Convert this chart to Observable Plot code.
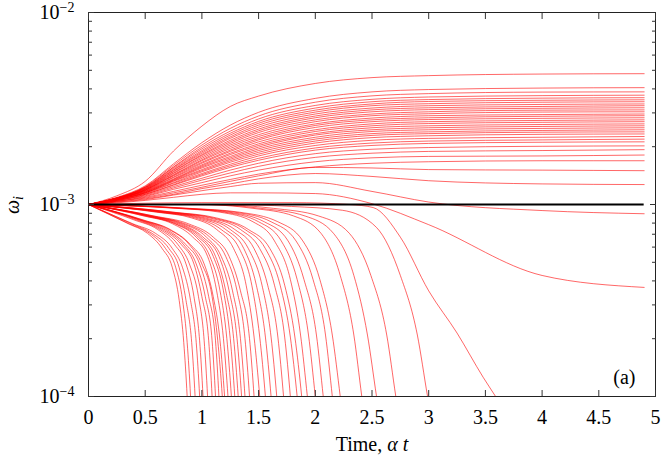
<!DOCTYPE html>
<html><head><meta charset="utf-8">
<script src="https://cdn.jsdelivr.net/npm/d3@7"></script>
<script src="https://cdn.jsdelivr.net/npm/@observablehq/plot@0.6"></script>
<style>
body{margin:0;background:#fff;}
#chart svg{display:block;}
</style>
</head><body><div id="chart"></div>
<script>
// omega_i values are given in units of 10^-3
const unit = 1e-3;

// growing / saturating modes, sampled at these times
const upperTimes = [0, 0.25, 0.5, 0.75, 1, 1.25, 1.5, 2, 2.5, 3, 4, 4.9];
const upperCurves = [
  [1, 1.11, 1.32, 1.90, 2.56, 3.24, 3.67, 4.27, 4.58, 4.69, 4.78, 4.80],
  [1, 1.09, 1.25, 1.63, 2.10, 2.59, 3.02, 3.57, 3.86, 3.97, 4.04, 4.06],
  [1, 1.08, 1.24, 1.60, 2.04, 2.49, 2.89, 3.41, 3.68, 3.78, 3.85, 3.86],
  [1, 1.08, 1.23, 1.57, 1.99, 2.41, 2.79, 3.28, 3.53, 3.63, 3.69, 3.71],
  [1, 1.08, 1.23, 1.56, 1.95, 2.35, 2.71, 3.18, 3.43, 3.52, 3.58, 3.60],
  [1, 1.08, 1.22, 1.54, 1.91, 2.30, 2.65, 3.10, 3.34, 3.44, 3.49, 3.51],
  [1, 1.08, 1.22, 1.52, 1.88, 2.25, 2.59, 3.03, 3.27, 3.35, 3.41, 3.43],
  [1, 1.08, 1.21, 1.51, 1.85, 2.21, 2.53, 2.96, 3.18, 3.27, 3.32, 3.34],
  [1, 1.08, 1.21, 1.49, 1.82, 2.16, 2.47, 2.89, 3.11, 3.19, 3.24, 3.27],
  [1, 1.08, 1.20, 1.48, 1.80, 2.12, 2.42, 2.83, 3.04, 3.12, 3.17, 3.19],
  [1, 1.07, 1.20, 1.46, 1.77, 2.08, 2.37, 2.76, 2.96, 3.04, 3.10, 3.11],
  [1, 1.07, 1.19, 1.45, 1.74, 2.04, 2.31, 2.70, 2.90, 2.97, 3.03, 3.04],
  [1, 1.07, 1.19, 1.43, 1.71, 2.00, 2.26, 2.63, 2.82, 2.90, 2.94, 2.96],
  [1, 1.07, 1.19, 1.42, 1.69, 1.96, 2.21, 2.58, 2.76, 2.83, 2.88, 2.90],
  [1, 1.07, 1.18, 1.41, 1.66, 1.92, 2.17, 2.52, 2.70, 2.77, 2.81, 2.83],
  [1, 1.07, 1.18, 1.39, 1.64, 1.89, 2.12, 2.45, 2.63, 2.70, 2.74, 2.76],
  [1, 1.07, 1.17, 1.38, 1.61, 1.85, 2.07, 2.40, 2.57, 2.64, 2.68, 2.70],
  [1, 1.07, 1.17, 1.36, 1.59, 1.82, 2.03, 2.34, 2.51, 2.57, 2.61, 2.63],
  [1, 1.06, 1.16, 1.35, 1.57, 1.78, 1.99, 2.30, 2.45, 2.51, 2.55, 2.57],
  [1, 1.06, 1.16, 1.34, 1.55, 1.75, 1.95, 2.24, 2.40, 2.45, 2.49, 2.51],
  [1, 1.06, 1.15, 1.33, 1.52, 1.72, 1.91, 2.19, 2.34, 2.39, 2.43, 2.45],
  [1, 1.06, 1.15, 1.32, 1.50, 1.69, 1.87, 2.14, 2.29, 2.34, 2.38, 2.39],
  [1, 1.06, 1.15, 1.30, 1.48, 1.66, 1.83, 2.09, 2.23, 2.28, 2.32, 2.33],
  [1, 1.06, 1.14, 1.29, 1.45, 1.62, 1.79, 2.03, 2.16, 2.21, 2.24, 2.26],
  [1, 1.05, 1.13, 1.27, 1.43, 1.59, 1.74, 1.97, 2.09, 2.14, 2.17, 2.19],
  [1, 1.05, 1.13, 1.26, 1.41, 1.56, 1.70, 1.92, 2.03, 2.08, 2.11, 2.12],
  [1, 1.05, 1.12, 1.24, 1.37, 1.51, 1.64, 1.84, 1.94, 1.98, 2.01, 2.02],
  [1, 1.05, 1.11, 1.22, 1.34, 1.46, 1.58, 1.76, 1.85, 1.89, 1.91, 1.93],
  [1, 1.04, 1.10, 1.20, 1.30, 1.41, 1.51, 1.67, 1.75, 1.78, 1.79, 1.81],
  [1, 1.04, 1.09, 1.17, 1.26, 1.35, 1.44, 1.57, 1.64, 1.67, 1.69, 1.69],
  [1, 1.04, 1.08, 1.15, 1.23, 1.32, 1.41, 1.56, 1.55, 1.52, 1.51, 1.50],
  [1, 1.03, 1.07, 1.13, 1.21, 1.28, 1.36, 1.45, 1.40, 1.33, 1.28, 1.27],
  [1, 1.03, 1.06, 1.12, 1.18, 1.24, 1.29, 1.30, 1.17, 1.03, 0.93, 0.895],
  [1, 1.02, 1.05, 1.09, 1.13, 1.15, 1.15, 1.14, 1.01, 0.785, 0.427, 0.370]
];

// decaying modes: each one has its own sample times
const lowerTimes = [
  [0, .35, .52, .65, .74, .80, .84, .87, .90],
  [0, .36, .54, .68, .77, .83, .87, .90, .93],
  [0, .38, .56, .71, .80, .86, .91, .94, .97],
  [0, .39, .59, .74, .83, .90, .95, .98, 1.01],
  [0, .40, .61, .76, .86, .93, .98, 1.01, 1.04],
  [0, .42, .63, .79, .89, .97, 1.02, 1.05, 1.08],
  [0, .44, .65, .82, .93, 1.00, 1.06, 1.09, 1.12],
  [0, .45, .67, .84, .95, 1.03, 1.09, 1.12, 1.15],
  [0, .46, .69, .86, .98, 1.06, 1.12, 1.15, 1.18],
  [0, .47, .71, .89, 1.00, 1.09, 1.14, 1.18, 1.22],
  [0, .48, .72, .90, 1.02, 1.10, 1.16, 1.20, 1.24],
  [0, .49, .74, .92, 1.05, 1.13, 1.19, 1.23, 1.27],
  [0, .50, .76, .95, 1.07, 1.16, 1.22, 1.26, 1.30],
  [0, .52, .77, .97, 1.10, 1.19, 1.25, 1.29, 1.33],
  [0, .53, .79, .99, 1.12, 1.21, 1.28, 1.32, 1.36],
  [0, .54, .81, 1.01, 1.15, 1.24, 1.31, 1.35, 1.39],
  [0, .55, .83, 1.04, 1.17, 1.27, 1.34, 1.38, 1.42],
  [0, .57, .85, 1.07, 1.21, 1.31, 1.38, 1.42, 1.46],
  [0, .58, .88, 1.10, 1.24, 1.34, 1.42, 1.46, 1.50],
  [0, .60, .91, 1.13, 1.28, 1.39, 1.46, 1.51, 1.56],
  [0, .62, .94, 1.17, 1.33, 1.44, 1.51, 1.56, 1.61],
  [0, .64, .97, 1.21, 1.37, 1.48, 1.56, 1.61, 1.66],
  [0, .66, 1.00, 1.25, 1.41, 1.53, 1.61, 1.66, 1.71],
  [0, .69, 1.03, 1.29, 1.46, 1.58, 1.67, 1.72, 1.77],
  [0, .71, 1.07, 1.34, 1.51, 1.64, 1.73, 1.78, 1.83],
  [0, .74, 1.10, 1.38, 1.56, 1.69, 1.78, 1.84, 1.90],
  [0, .75, 1.13, 1.41, 1.60, 1.73, 1.82, 1.88, 1.94],
  [0, .77, 1.16, 1.45, 1.64, 1.78, 1.87, 1.93, 1.99],
  [0, .80, 1.20, 1.50, 1.70, 1.84, 1.94, 2.00, 2.06],
  [0, .83, 1.24, 1.55, 1.76, 1.90, 2.01, 2.07, 2.13],
  [0, .86, 1.29, 1.61, 1.83, 1.98, 2.09, 2.15, 2.21],
  [0, .89, 1.33, 1.67, 1.89, 2.04, 2.15, 2.22, 2.29],
  [0, .96, 1.45, 1.81, 2.05, 2.22, 2.34, 2.41, 2.48],
  [0, 1.02, 1.52, 1.91, 2.16, 2.34, 2.46, 2.54, 2.62],
  [0, 1.08, 1.63, 2.03, 2.30, 2.49, 2.63, 2.71, 2.79],
  [0, 1.20, 1.79, 2.24, 2.54, 2.75, 2.90, 2.99, 3.08],
  [0, 1.0, 1.8, 2.3, 2.51, 2.75, 3.0, 3.25, 3.48, 3.59, 3.7]
];
const lowerCurves = [
  [1, .794, .708, .589, .468, .316, .191, .100, .040],
  [1, .794, .708, .589, .468, .316, .191, .100, .040],
  [1, .794, .708, .589, .468, .316, .191, .100, .040],
  [1, .794, .708, .589, .468, .316, .191, .100, .040],
  [1, .832, .741, .617, .490, .331, .195, .100, .040],
  [1, .832, .741, .617, .490, .331, .195, .100, .040],
  [1, .832, .741, .617, .490, .331, .195, .100, .040],
  [1, .832, .741, .617, .490, .331, .195, .100, .040],
  [1, .832, .741, .617, .490, .331, .195, .100, .040],
  [1, .832, .741, .617, .490, .331, .195, .100, .040],
  [1, .832, .741, .617, .490, .331, .195, .100, .040],
  [1, .871, .794, .676, .537, .355, .200, .100, .040],
  [1, .871, .794, .676, .537, .355, .200, .100, .040],
  [1, .871, .794, .676, .537, .355, .200, .100, .040],
  [1, .871, .794, .676, .537, .355, .200, .100, .040],
  [1, .871, .794, .676, .537, .355, .200, .100, .040],
  [1, .871, .794, .676, .537, .355, .200, .100, .040],
  [1, .871, .794, .676, .537, .355, .200, .100, .040],
  [1, .871, .794, .676, .537, .355, .200, .100, .040],
  [1, .912, .851, .741, .589, .380, .204, .100, .040],
  [1, .912, .851, .741, .589, .380, .204, .100, .040],
  [1, .912, .851, .741, .589, .380, .204, .100, .040],
  [1, .912, .851, .741, .589, .380, .204, .100, .040],
  [1, .912, .851, .741, .589, .380, .204, .100, .040],
  [1, .912, .851, .741, .589, .380, .204, .100, .040],
  [1, .912, .851, .741, .589, .380, .204, .100, .040],
  [1, .912, .851, .741, .589, .380, .204, .100, .040],
  [1, .955, .912, .813, .646, .407, .209, .100, .045],
  [1, .955, .912, .813, .646, .407, .209, .100, .045],
  [1, .955, .912, .813, .646, .407, .209, .100, .045],
  [1, .955, .912, .813, .646, .407, .209, .100, .045],
  [1, .955, .912, .813, .646, .407, .209, .100, .045],
  [1, 1.0, .955, .871, .708, .427, .209, .100, .050],
  [1, 1.0, .955, .871, .708, .427, .209, .100, .050],
  [1, 1.0, .955, .871, .708, .427, .209, .100, .050],
  [1, 1.0, .977, .933, .759, .427, .209, .100, .050],
  [1, 1.023, 1.023, 1.0, .964, .676, .355, .214, .126, .100, .079]
];

const referenceLevel = [1e-3];
const referenceEnd = 4.9;
const xTicks = [0, 0.5, 1, 1.5, 2, 2.5, 3, 3.5, 4, 4.5, 5];
const yMajor = [1e-4, 1e-3, 1e-2];
const yMajorLabels = ["10^-4", "10^-3", "10^-2"];
const yMinor = [2e-4, 3e-4, 4e-4, 5e-4, 6e-4, 7e-4, 8e-4, 9e-4,
                2e-3, 3e-3, 4e-3, 5e-3, 6e-3, 7e-3, 8e-3, 9e-3];
const panelLabel = ["(a)"];

const rows = [];
upperCurves.forEach((vals, i) => vals.forEach((v, j) => rows.push({id: "u" + i, t: upperTimes[j], w: v * unit})));
lowerCurves.forEach((vals, i) => vals.forEach((v, j) => rows.push({id: "l" + i, t: lowerTimes[i][j], w: v * unit})));

const font = "Liberation Serif, DejaVu Serif, serif";
const txt = {fontFamily: font, fontSize: 20};
const plot = Plot.plot({
  width: 661, height: 458,
  marginLeft: 88, marginRight: 6, marginTop: 12, marginBottom: 62,
  style: {fontFamily: font, fontSize: "20px", color: "#000", background: "#fff"},
  x: {domain: [0, 5]},
  y: {type: "log", domain: [1e-4, 1e-2]},
  marks: [
    Plot.line(rows, {x: "t", y: "w", z: "id", stroke: "#ff0000", strokeWidth: 0.6, curve: "monotone-x", clip: true}),
    Plot.ruleY(referenceLevel, {x1: 0, x2: referenceEnd, stroke: "#000", strokeWidth: 2}),
    Plot.frame({stroke: "#222", strokeWidth: 1}),
    Plot.axisX({anchor: "bottom", ticks: xTicks, tickSize: -6, fill: "none", label: null, stroke: "#333"}),
    Plot.axisX({anchor: "top", ticks: xTicks, tickSize: -6, fill: "none", label: null, stroke: "#333"}),
    Plot.axisX({anchor: "bottom", ticks: xTicks, tickSize: 0, tickPadding: 13, tickFormat: d3.format(""), label: null, ...txt}),
    Plot.axisY({anchor: "left", ticks: yMajor, tickSize: -6, fill: "none", label: null, stroke: "#333"}),
    Plot.axisY({anchor: "right", ticks: yMajor, tickSize: -6, fill: "none", label: null, stroke: "#333"}),
    Plot.axisY({anchor: "left", ticks: yMinor, tickSize: -4, fill: "none", label: null, stroke: "#333"}),
    Plot.axisY({anchor: "right", ticks: yMinor, tickSize: -4, fill: "none", label: null, stroke: "#333"}),
    Plot.axisY({anchor: "left", ticks: yMajor, tickSize: 0, tickPadding: 14, tickFormat: d => yMajorLabels[yMajor.indexOf(d)], label: null, ...txt}),
    Plot.text(panelLabel, {text: d => d, frameAnchor: "bottom-right", dx: -20, dy: -13, textAnchor: "end", ...txt})
  ]
});

const svg = d3.select(plot);
svg.selectAll("text").each(function () {
  const s = this.textContent;
  if (!s.includes("^")) return;
  const [b, e] = s.split("^");
  const t = d3.select(this);
  t.text(null);
  t.append("tspan").text(b);
  t.append("tspan").attr("dy", "-0.5em").attr("font-size", "14px").text(e.replace("-", "\u2212"));
});

// axis titles
const xl = svg.append("text").attr("x", 372).attr("y", 451).attr("text-anchor", "middle")
  .attr("font-family", font).attr("font-size", 20).attr("fill", "#000");
xl.append("tspan").text("Time, ");
xl.append("tspan").attr("font-style", "italic").text("\u03b1");
xl.append("tspan").text(" ");
xl.append("tspan").attr("font-style", "italic").text("t");

const yl = svg.append("text").attr("transform", "translate(19,205) rotate(-90)").attr("text-anchor", "middle")
  .attr("font-family", font).attr("font-size", 20).attr("fill", "#000");
yl.append("tspan").attr("font-style", "italic").text("\u03c9");
yl.append("tspan").attr("font-style", "italic").attr("font-size", 14).attr("dy", "0.3em").text("i");

document.getElementById("chart").appendChild(plot);
</script>
</body></html>
